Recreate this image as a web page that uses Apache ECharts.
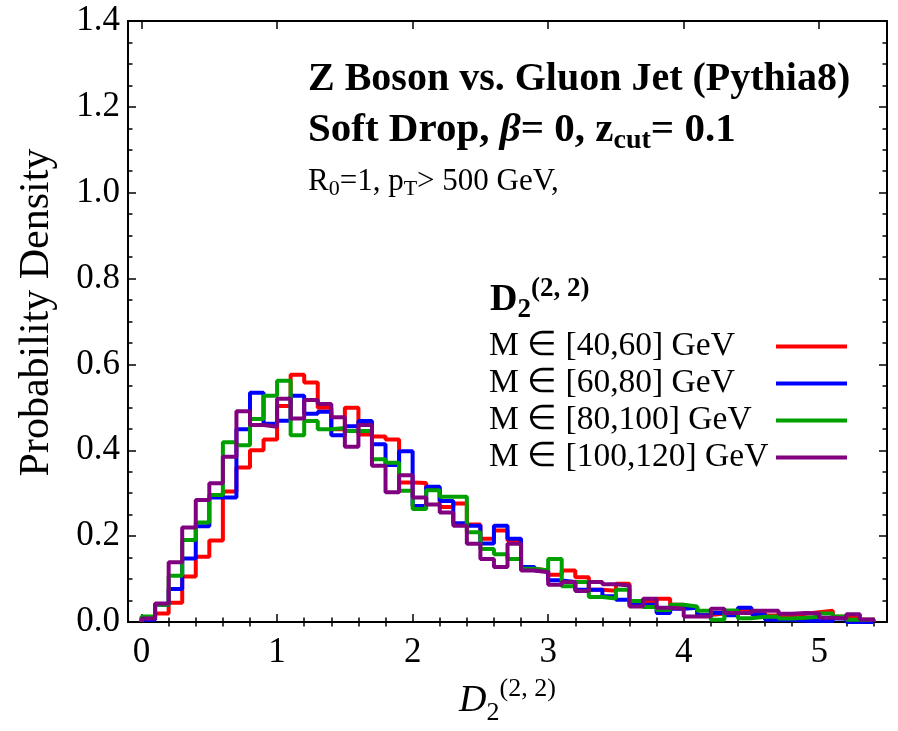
<!DOCTYPE html>
<html>
<head>
<meta charset="utf-8">
<script src="https://cdn.jsdelivr.net/npm/echarts@6/dist/echarts.min.js"></script>
<style>html,body{margin:0;padding:0;background:#fff}#c{width:898px;height:731px}</style>
</head>
<body>
<div id="c"></div>
<script>
// Bin edges (D2 values)
const binEdges = [0,0.1,0.2,0.3,0.4,0.5,0.6,0.7,0.8,0.9,1.0,1.1,1.2,1.3,1.4,1.5,1.6,1.7,1.8,1.9,2.0,2.1,2.2,2.3,2.4,2.5,2.6,2.7,2.8,2.9,3.0,3.1,3.2,3.3,3.4,3.5,3.6,3.7,3.8,3.9,4.0,4.1,4.2,4.3,4.4,4.5,4.6,4.7,4.8,4.9,5.0,5.1,5.2,5.3,5.4];
const seriesNames = ['M \u2208 [40,60] GeV','M \u2208 [60,80] GeV','M \u2208 [80,100] GeV','M \u2208 [100,120] GeV'];
const m40_60 = [0.01,0.02,0.045,0.106,0.152,0.19,0.304,0.36,0.40,0.425,0.503,0.576,0.558,0.499,0.449,0.499,0.437,0.432,0.425,0.325,0.324,0.31,0.268,0.276,0.227,0.194,0.213,0.19,0.124,0.12,0.11,0.12,0.104,0.075,0.073,0.089,0.048,0.048,0.054,0.04,0.035,0.016,0.02,0.018,0.026,0.021,0.015,0.015,0.019,0.023,0.026,0.012,0.01,0.005];
const m60_80 = [0.005,0.04,0.077,0.148,0.223,0.29,0.29,0.449,0.534,0.462,0.469,0.527,0.485,0.49,0.435,0.456,0.468,0.414,0.366,0.398,0.27,0.315,0.282,0.23,0.224,0.183,0.224,0.194,0.128,0.12,0.097,0.093,0.075,0.075,0.06,0.052,0.04,0.04,0.021,0.031,0.033,0.016,0.021,0.016,0.033,0.018,0.005,0.005,0.003,0.003,0.003,0.008,0.0,0.0];
const m80_100 = [0.013,0.04,0.108,0.191,0.232,0.296,0.419,0.412,0.473,0.527,0.562,0.435,0.468,0.449,0.452,0.445,0.445,0.379,0.371,0.306,0.263,0.307,0.292,0.292,0.209,0.17,0.158,0.147,0.124,0.12,0.147,0.083,0.093,0.058,0.055,0.075,0.049,0.035,0.028,0.04,0.036,0.026,0.005,0.027,0.009,0.012,0.013,0.008,0.01,0.012,0.02,0.013,0.005,0.005];
const m100_120 = [0.008,0.043,0.139,0.22,0.284,0.323,0.385,0.491,0.459,0.455,0.52,0.474,0.517,0.508,0.477,0.408,0.459,0.364,0.302,0.342,0.29,0.274,0.255,0.224,0.182,0.147,0.128,0.182,0.12,0.116,0.087,0.093,0.072,0.093,0.088,0.085,0.036,0.054,0.033,0.031,0.013,0.013,0.031,0.021,0.021,0.026,0.026,0.019,0.021,0.02,0.01,0.008,0.018,0.006];
const xMajorTicks = [0,1,2,3,4,5];
const xMinorTicks = [0.2,0.4,0.6,0.8,1.2,1.4,1.6,1.8,2.2,2.4,2.6,2.8,3.2,3.4,3.6,3.8,4.2,4.4,4.6,4.8,5.2,5.4];
const colors = ['#ff0000','#0000ff','#00a000','#800080'];

function stepData(vals){
  const d = [[binEdges[0],0]];
  for (let i=0;i<vals.length;i++) d.push([binEdges[i], vals[i]]);
  d.push([binEdges[vals.length], vals[vals.length-1]]);
  d.push([binEdges[vals.length], 0]);
  return d;
}
const allVals = [m40_60, m60_80, m80_100, m100_120];
const FONT = 'Liberation Serif';
const chart = echarts.init(document.getElementById('c'));
const baseX = {type:'value', min:-0.1, max:5.5, splitLine:{show:false}};
const option = {
  animation:false,
  backgroundColor:'#fff',
  grid:{left:128, right:11, top:21, bottom:106, containLabel:false},
  xAxis:[
    Object.assign({}, baseX, {position:'bottom',
      axisLine:{show:true, onZero:false, lineStyle:{color:'#000', width:2}},
      axisTick:{show:true, inside:true, length:8, customValues:xMajorTicks, lineStyle:{color:'#000', width:1.5}},
      axisLabel:{show:true, customValues:xMajorTicks, margin:13, color:'#000', fontFamily:FONT, fontSize:35},
      name:'{D|D}{s|2}{p|(2, 2)}', nameLocation:'middle', nameGap:54,
      nameTextStyle:{color:'#000', rich:{
        D:{fontFamily:FONT, fontStyle:'italic', fontSize:38, lineHeight:50, verticalAlign:'middle', color:'#000'},
        s:{fontFamily:FONT, fontSize:26, lineHeight:25, verticalAlign:'bottom', color:'#000'},
        p:{fontFamily:FONT, fontSize:26, lineHeight:25, verticalAlign:'top', color:'#000'}
      }}
    }),
    Object.assign({}, baseX, {position:'bottom',
      axisLine:{show:false},
      axisTick:{show:true, inside:true, length:4.5, customValues:xMinorTicks, lineStyle:{color:'#000', width:1.5}},
      axisLabel:{show:false}
    }),
    Object.assign({}, baseX, {position:'top',
      axisLine:{show:true, onZero:false, lineStyle:{color:'#000', width:2}},
      axisTick:{show:true, inside:true, length:8, customValues:xMajorTicks, lineStyle:{color:'#000', width:1.5}},
      axisLabel:{show:false}
    }),
    Object.assign({}, baseX, {position:'top',
      axisLine:{show:false},
      axisTick:{show:true, inside:true, length:4.5, customValues:xMinorTicks, lineStyle:{color:'#000', width:1.5}},
      axisLabel:{show:false}
    })
  ],
  yAxis:[
    {type:'value', min:0, max:1.4, interval:0.2, position:'left', splitLine:{show:false},
      axisLine:{show:true, onZero:false, lineStyle:{color:'#000', width:2}},
      axisTick:{show:true, inside:true, length:8, lineStyle:{color:'#000', width:1.5}},
      minorTick:{show:true, splitNumber:4, length:4.5, lineStyle:{color:'#000', width:1.5}},
      axisLabel:{color:'#000', fontFamily:FONT, fontSize:35, margin:8, formatter:v=>v.toFixed(1)},
      name:'Probability Density', nameLocation:'middle', nameGap:70, nameRotate:90,
      nameTextStyle:{color:'#000', fontFamily:FONT, fontSize:42, padding:[0,0,0,18]}
    },
    {type:'value', min:0, max:1.4, interval:0.2, position:'right', splitLine:{show:false},
      axisLine:{show:true, onZero:false, lineStyle:{color:'#000', width:2}},
      axisTick:{show:true, inside:true, length:8, lineStyle:{color:'#000', width:1.5}},
      minorTick:{show:true, splitNumber:4, length:4.5, lineStyle:{color:'#000', width:1.5}},
      axisLabel:{show:false}
    }
  ],
  legend:{
    orient:'vertical', left:484, top:323, itemGap:0, itemWidth:71, itemHeight:4, icon:'rect', align:'right',
    data:seriesNames,
    formatter: name => '{t|' + name + '}',
    textStyle:{color:'#000', fontFamily:FONT, fontSize:33, lineHeight:37,
      rich:{t:{fontFamily:FONT, fontSize:33.5, lineHeight:37, width:282, align:'left', color:'#000'}}}
  },
  series: allVals.map((vals,i)=>({
    name:seriesNames[i], type:'line', step:'end', xAxisIndex:0, yAxisIndex:0,
    data:stepData(vals), showSymbol:false, symbol:'none', color:colors[i],
    lineStyle:{color:colors[i], width:4}, z:2+i
  })),
  graphic:[
    {type:'text', left:308, top:60, style:{text:'Z Boson vs. Gluon Jet (Pythia8)', fill:'#000', font:'bold 40px "Liberation Serif"'}},
    {type:'text', left:308, top:110, style:{
      text:'{b|Soft Drop, }{bi|\u03b2}{b|= 0, z}{sub|cut}{b|= 0.1}', fill:'#000',
      rich:{
        b:{fontFamily:FONT, fontWeight:'bold', fontSize:41, lineHeight:48, verticalAlign:'middle', fill:'#000'},
        bi:{fontFamily:FONT, fontWeight:'bold', fontStyle:'italic', fontSize:41, lineHeight:48, verticalAlign:'middle', fill:'#000'},
        sub:{fontFamily:FONT, fontWeight:'bold', fontSize:28, lineHeight:27, verticalAlign:'bottom', fill:'#000'}
      }}},
    {type:'text', left:308, top:166, style:{
      text:'{n|R}{sub|0}{n|=1, p}{sub|T}{n|> 500 GeV,}', fill:'#000',
      rich:{
        n:{fontFamily:FONT, fontSize:31, lineHeight:38, verticalAlign:'middle', fill:'#000'},
        sub:{fontFamily:FONT, fontSize:22, lineHeight:20, verticalAlign:'bottom', fill:'#000'}
      }}},
    {type:'text', left:490, top:276, style:{
      text:'{D|D}{s|2}{p|(2, 2)}', fill:'#000',
      rich:{
        D:{fontFamily:FONT, fontWeight:'bold', fontSize:38, lineHeight:48, verticalAlign:'middle', fill:'#000'},
        s:{fontFamily:FONT, fontWeight:'bold', fontSize:27, lineHeight:23, verticalAlign:'bottom', fill:'#000'},
        p:{fontFamily:FONT, fontWeight:'bold', fontSize:27, lineHeight:23, verticalAlign:'top', fill:'#000'}
      }}}
  ]
};
chart.setOption(option);
</script>
</body>
</html>
